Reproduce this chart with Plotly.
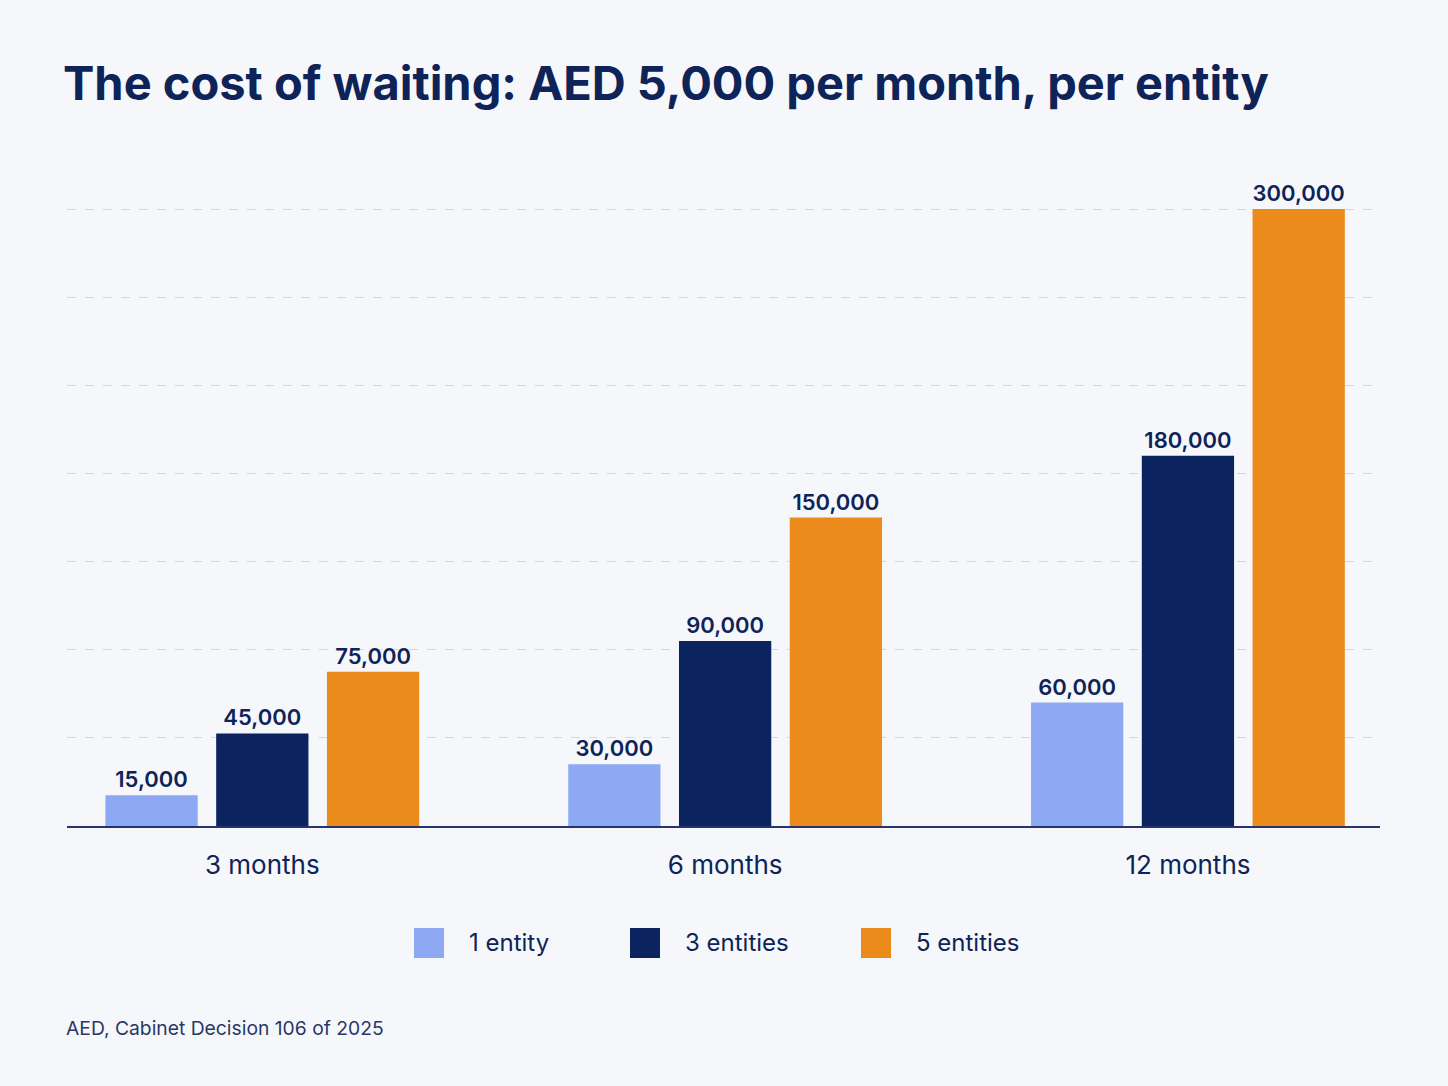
import plotly.graph_objects as go

categories = ["3 months", "6 months", "12 months"]
series_names = ["1 entity", "3 entities", "5 entities"]
one_entity = [15000, 30000, 60000]
three_entities = [45000, 90000, 180000]
five_entities = [75000, 150000, 300000]
colors = ["#8EA9F3", "#0B2460", "#EA8B1B"]

NAVY = "#0E2357"
FONT = "Inter"

W, H = 1448, 1086
L, R, T, B = 67, 68, 170, 260
pw, ph = W - L - R, H - T - B

fig = go.Figure()
for name, vals, col in zip(series_names, [one_entity, three_entities, five_entities], colors):
    fig.add_trace(go.Bar(
        x=categories, y=vals, name=name, marker=dict(color=col, line=dict(width=0)),
        text=[f"{v:,}" for v in vals], textposition="outside", cliponaxis=False,
        textfont=dict(family=FONT, size=22, color=NAVY, weight=600),
        showlegend=False,
    ))

ymax = 319000
grid_vals = [300000 * i / 7 for i in range(1, 8)]

# custom legend (large square swatches)
legend_x = [414, 630, 861]
shapes, annotations = [], []
for name, col, lx in zip(series_names, colors, legend_x):
    shapes.append(dict(type="rect", xref="paper", yref="paper",
                       x0=(lx - L) / pw, x1=(lx + 30 - L) / pw,
                       y0=(826 - 958) / ph, y1=(826 - 928) / ph,
                       fillcolor=col, line=dict(width=0), layer="above"))
    annotations.append(dict(text=name, xref="paper", yref="paper", x=(lx + 53 - L) / pw, xanchor="left",
                            y=(826 - 943) / ph, yanchor="middle", showarrow=False,
                            font=dict(family=FONT, size=24, color=NAVY)))

annotations.append(dict(text="AED, Cabinet Decision 106 of 2025", x=(64 - L) / pw, xref="paper", xanchor="left",
                        y=(826 - 1028) / ph, yref="paper", yanchor="middle", showarrow=False,
                        font=dict(family=FONT, size=19.3, color="#2A3766")))

fig.update_layout(
    width=W, height=H,
    paper_bgcolor="#F5F7FB", plot_bgcolor="#F5F7FB",
    margin=dict(l=L, r=R, t=T, b=B),
    barmode="group", bargap=0.282, bargroupgap=0.167,
    title=dict(text="<b>The cost of waiting: AED 5,000 per month, per entity</b>",
               x=63 / W, xanchor="left", y=1 - 84 / H, yref="container", yanchor="middle",
               font=dict(family=FONT, size=47, color=NAVY)),
    xaxis=dict(range=[-0.422, 2.415], showgrid=False, showline=True, linecolor="#27336B", linewidth=2,
               ticks="", tickfont=dict(family=FONT, size=26, color=NAVY), ticklabelstandoff=15),
    yaxis=dict(range=[0, ymax], tickvals=grid_vals, showticklabels=False, showgrid=True,
               gridcolor="#D3D8E2", griddash="dash", gridwidth=1, zeroline=False),
    showlegend=False,
    shapes=shapes,
    annotations=annotations,
)
fig.write_html("out.html")
